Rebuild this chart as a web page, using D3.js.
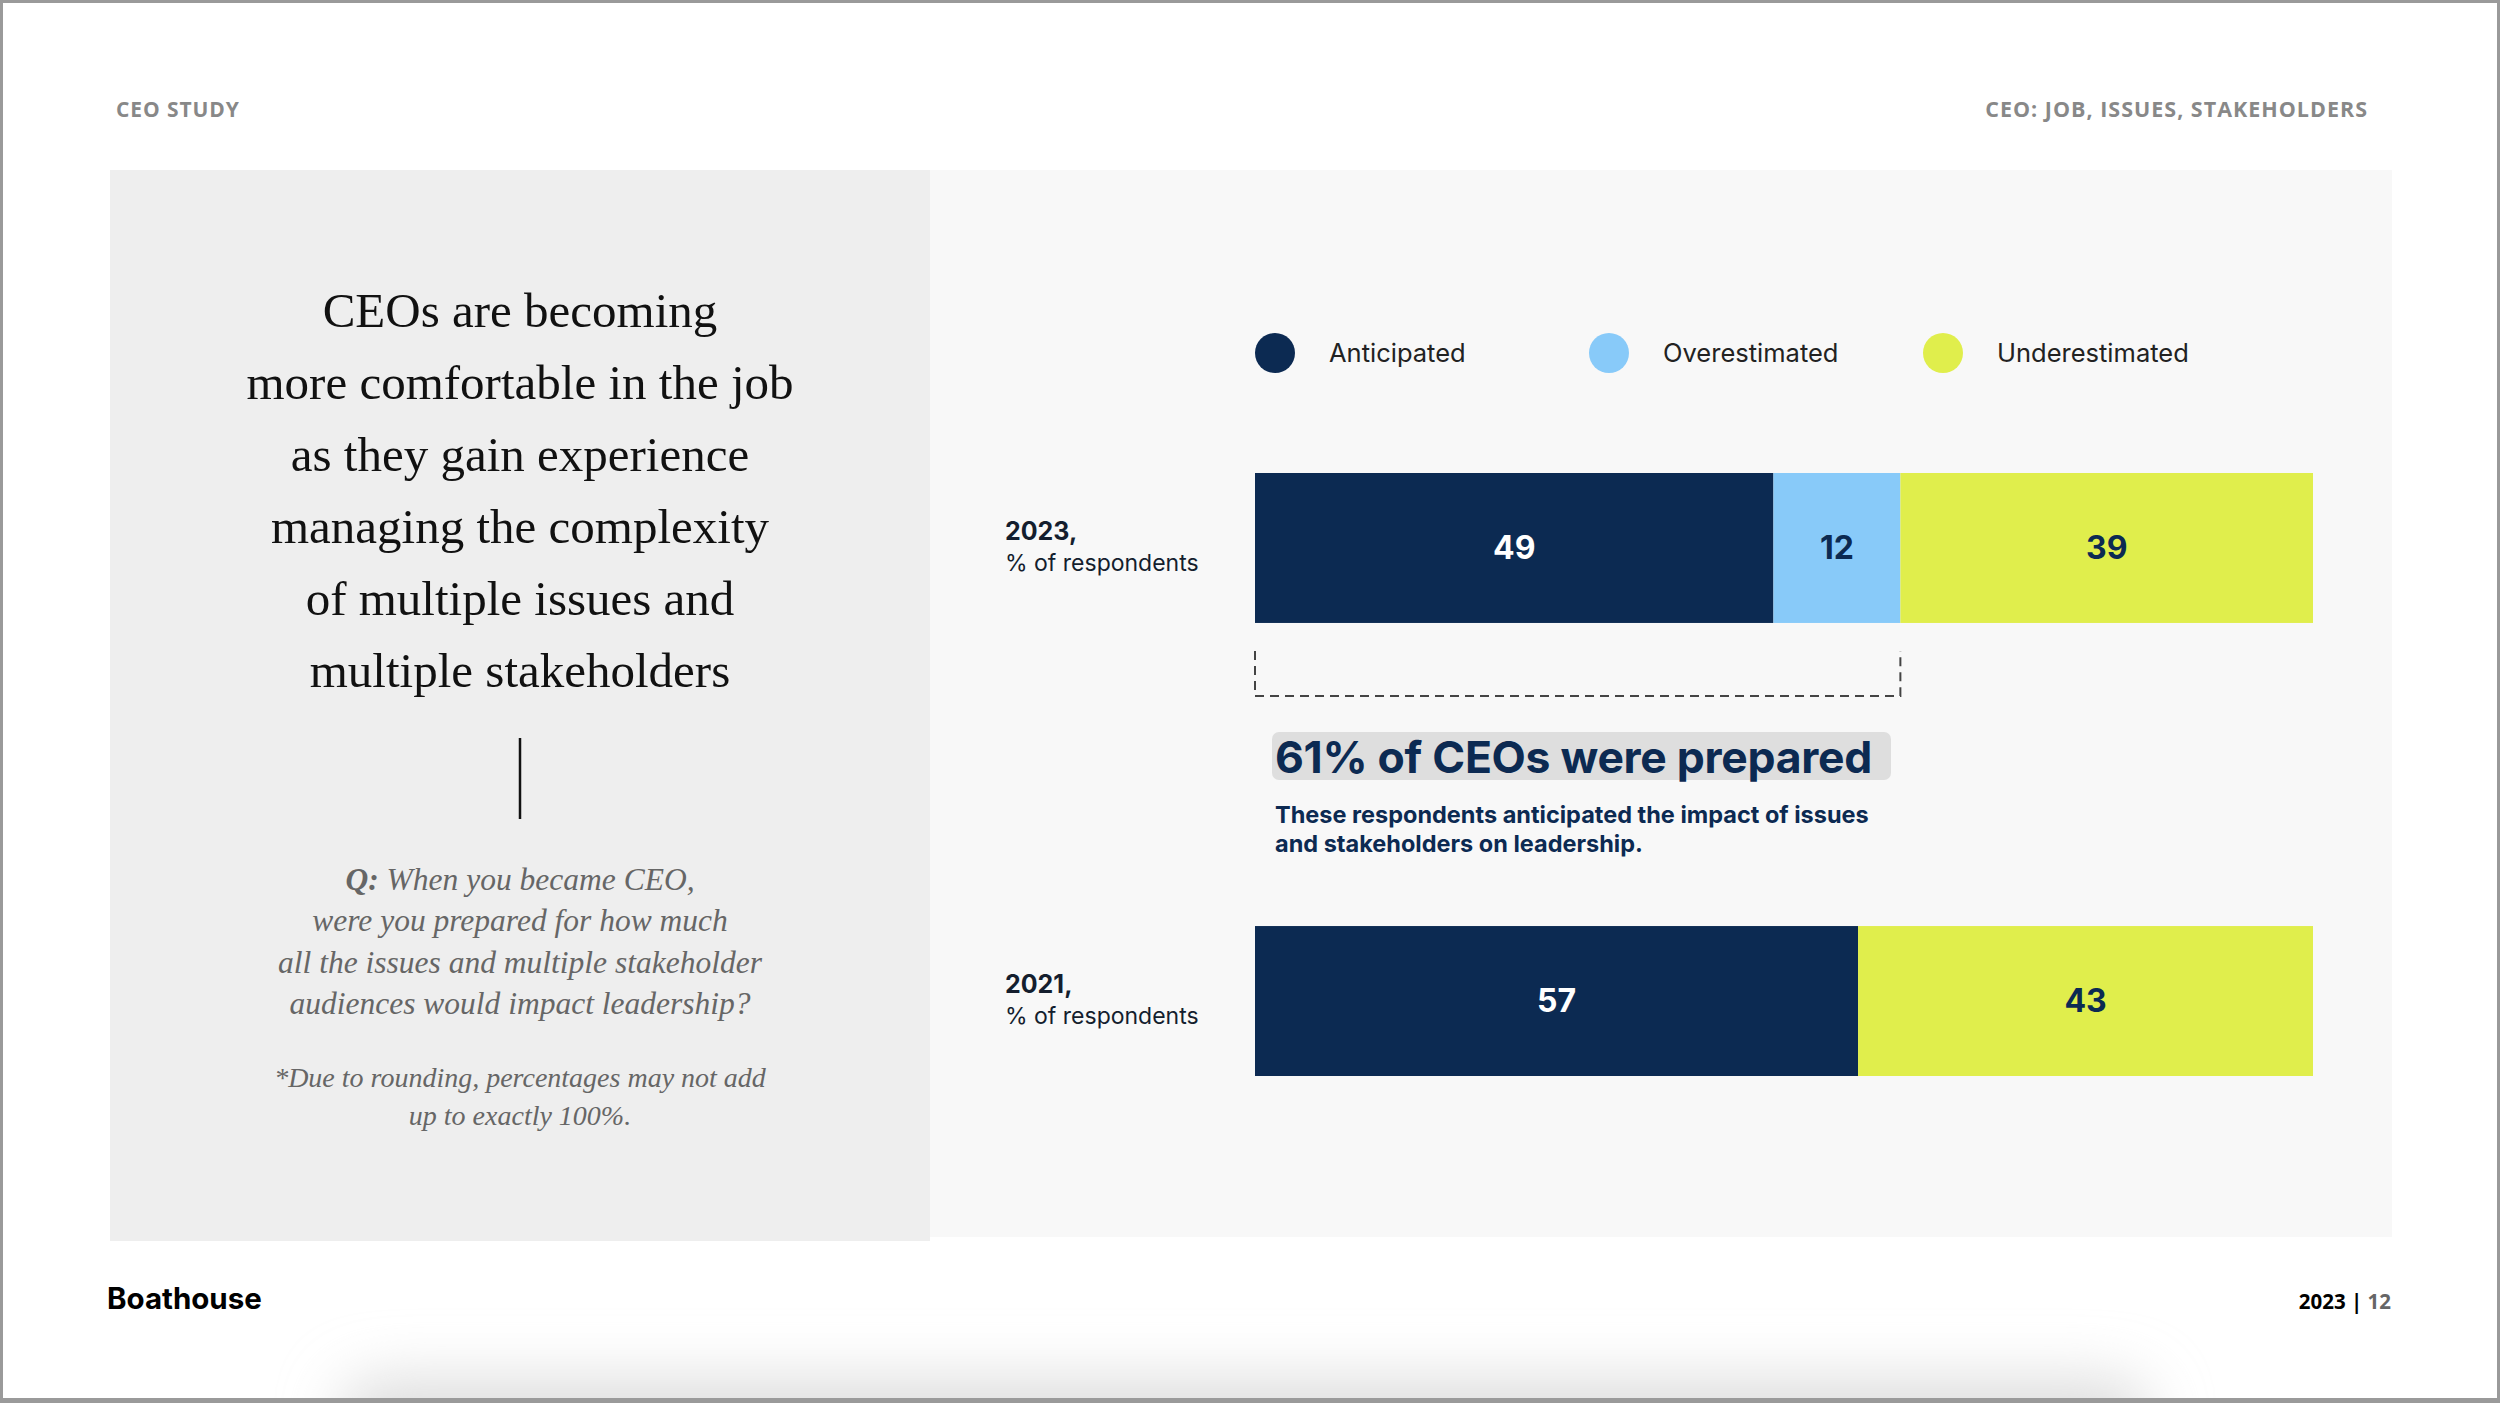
<!DOCTYPE html>
<html>
  <head>
    <meta charset="utf-8">
    <title>CEOs prepared for issues and stakeholders</title>
    <script src="https://d3js.org/d3.v7.min.js"></script>
    <style>
      html, body { margin: 0; padding: 0; background: #fff; }
      svg { display: block; }
    </style>
  </head>
  <body>
    <svg id="chart"></svg>
    <script>
// data
var years = ["2023", "2021"];
var categories = ["Anticipated", "Overestimated", "Underestimated"];
var values2023 = [49, 12, 39];
var values2021 = [57, 0, 43];
var preparedShare = 61;

var headlineLines = [
  "CEOs are becoming",
  "more comfortable in the job",
  "as they gain experience",
  "managing the complexity",
  "of multiple issues and",
  "multiple stakeholders"
];
var questionLines = [
  "When you became CEO,",
  "were you prepared for how much",
  "all the issues and multiple stakeholder",
  "audiences would impact leadership?"
];
var footnoteLines = [
  "*Due to rounding, percentages may not add",
  "up to exactly 100%."
];
var calloutLines = [
  "These respondents anticipated the impact of issues",
  "and stakeholders on leadership."
];

var W = 2500, H = 1403;
var navy = "#0c2a52";
var sans = "Inter, 'Noto Sans', sans-serif";
var serif = "'Liberation Serif', 'DejaVu Serif', serif";

var colorScale = d3.scaleOrdinal()
  .domain(categories)
  .range([navy, "#88caf9", "#e0ee4c"]);

var svg = d3.select("#chart")
  .attr("width", W)
  .attr("height", H);

var defs = svg.append("defs");
defs.append("filter")
  .attr("id", "blur")
  .attr("x", "-20%").attr("y", "-200%")
  .attr("width", "140%").attr("height", "500%")
  .append("feGaussianBlur")
  .attr("stdDeviation", 30);

svg.append("rect")
  .attr("width", W).attr("height", H)
  .attr("fill", "#fff");

// soft shadow under the page
svg.append("rect")
  .attr("x", 340).attr("y", 1380)
  .attr("width", 1810).attr("height", 80)
  .attr("rx", 40)
  .attr("fill", "#dcdcdc")
  .attr("filter", "url(#blur)");

// header
svg.append("text")
  .attr("x", 116).attr("y", 117)
  .style("font-family", "'Open Sans', sans-serif")
  .style("font-weight", 700)
  .style("font-size", "21px")
  .style("letter-spacing", "0.9px")
  .attr("fill", "#888")
  .text("CEO STUDY");

svg.append("text")
  .attr("x", 2368).attr("y", 117)
  .attr("text-anchor", "end")
  .style("font-family", "'Open Sans', sans-serif")
  .style("font-weight", 700)
  .style("font-size", "21.5px")
  .style("letter-spacing", "1px")
  .attr("fill", "#888")
  .text("CEO: JOB, ISSUES, STAKEHOLDERS");

// panels
svg.append("rect")
  .attr("x", 110).attr("y", 170)
  .attr("width", 820).attr("height", 1071)
  .attr("fill", "#eeeeee");

svg.append("rect")
  .attr("x", 930).attr("y", 170)
  .attr("width", 1462).attr("height", 1067)
  .attr("fill", "#f8f8f8");

// left panel text
var cx = 520;
svg.append("g")
  .selectAll("text")
  .data(headlineLines)
  .join("text")
  .attr("x", cx)
  .attr("y", function(d, i) { return 327 + i * 72; })
  .attr("text-anchor", "middle")
  .style("font-family", serif)
  .style("font-size", "49px")
  .attr("fill", "#111")
  .text(function(d) { return d; });

svg.append("line")
  .attr("x1", cx).attr("x2", cx)
  .attr("y1", 738).attr("y2", 819)
  .attr("stroke", "#111")
  .attr("stroke-width", 2.5);

var q = svg.append("g")
  .selectAll("text")
  .data(questionLines)
  .join("text")
  .attr("x", cx)
  .attr("y", function(d, i) { return 890 + i * 41.3; })
  .attr("text-anchor", "middle")
  .style("font-family", serif)
  .style("font-style", "italic")
  .style("font-size", "31.5px")
  .attr("fill", "#666");

q.each(function(d, i) {
  var t = d3.select(this);
  if (i === 0) {
    t.append("tspan").style("font-weight", 700).text("Q: ");
  }
  t.append("tspan").text(d);
});

svg.append("g")
  .selectAll("text")
  .data(footnoteLines)
  .join("text")
  .attr("x", cx)
  .attr("y", function(d, i) { return 1087 + i * 38; })
  .attr("text-anchor", "middle")
  .style("font-family", serif)
  .style("font-style", "italic")
  .style("font-size", "28px")
  .attr("fill", "#666")
  .text(function(d) { return d; });

// scales for the bars
var xScale = d3.scaleLinear()
  .domain([0, 100])
  .range([1255, 2313]);

var yScale = d3.scaleBand()
  .domain(years)
  .range([473, 1076])
  .paddingInner(0.669);

var rows = years.map(function(y, i) {
  var vals = i === 0 ? values2023 : values2021;
  var row = { year: y };
  categories.forEach(function(c, j) { row[c] = vals[j]; });
  return row;
});

var stacked = d3.stack().keys(categories)(rows);

// legend
var legendX = [1275, 1609, 1943];
var legend = svg.append("g")
  .selectAll("g")
  .data(categories)
  .join("g")
  .attr("transform", function(d, i) { return "translate(" + legendX[i] + ",353)"; });

legend.append("circle")
  .attr("r", 20)
  .attr("fill", function(d) { return colorScale(d); });

legend.append("text")
  .attr("x", 54)
  .attr("y", 9)
  .style("font-family", sans)
  .style("font-size", "25.5px")
  .attr("fill", "#222")
  .text(function(d) { return d; });

// bars
var series = svg.append("g")
  .selectAll("g")
  .data(stacked)
  .join("g")
  .attr("fill", function(d) { return colorScale(d.key); });

series.selectAll("rect")
  .data(function(d) { return d.map(function(p) { p.key = d.key; return p; }); })
  .join("rect")
  .attr("x", function(d) { return xScale(d[0]); })
  .attr("y", function(d) { return yScale(d.data.year); })
  .attr("width", function(d) { return xScale(d[1]) - xScale(d[0]); })
  .attr("height", yScale.bandwidth());

series.selectAll("text")
  .data(function(d) { return d.filter(function(p) { return p[1] - p[0] > 0; }); })
  .join("text")
  .attr("x", function(d) { return (xScale(d[0]) + xScale(d[1])) / 2; })
  .attr("y", function(d) { return yScale(d.data.year) + yScale.bandwidth() / 2; })
  .attr("dy", "0.33em")
  .attr("text-anchor", "middle")
  .style("font-family", sans)
  .style("font-weight", 700)
  .style("font-size", "32px")
  .attr("fill", function(d) { return d.key === "Anticipated" ? "#fff" : navy; })
  .text(function(d) { return d[1] - d[0]; });

// row labels
var rowLabel = svg.append("g")
  .selectAll("g")
  .data(years)
  .join("g")
  .attr("transform", function(d) {
    return "translate(1005," + (yScale(d) + yScale.bandwidth() / 2) + ")";
  });

rowLabel.append("text")
  .attr("y", -8)
  .style("font-family", sans)
  .style("font-weight", 700)
  .style("font-size", "25px")
  .attr("fill", "#141e2e")
  .text(function(d) { return d + ","; });

rowLabel.append("text")
  .attr("y", 23)
  .style("font-family", sans)
  .style("font-size", "23px")
  .attr("fill", "#141e2e")
  .text("% of respondents");

// dashed bracket under the prepared share
var bTop = yScale("2023") + yScale.bandwidth() + 28;
var bBot = bTop + 45;
svg.append("path")
  .attr("d", "M" + xScale(0) + "," + bTop + "V" + bBot + "H" + xScale(preparedShare) + "V" + bTop)
  .attr("fill", "none")
  .attr("stroke", "#444")
  .attr("stroke-width", 2)
  .attr("stroke-dasharray", "9,6");

// callout
svg.append("rect")
  .attr("x", 1272).attr("y", 732)
  .attr("width", 619).attr("height", 48)
  .attr("rx", 7)
  .attr("fill", "#dedede");

svg.append("text")
  .attr("x", 1275).attr("y", 773)
  .style("font-family", sans)
  .style("font-weight", 700)
  .style("font-size", "44.5px")
  .style("letter-spacing", "-0.3px")
  .attr("fill", navy)
  .text(preparedShare + "% of CEOs were prepared");

svg.append("g")
  .selectAll("text")
  .data(calloutLines)
  .join("text")
  .attr("x", 1275)
  .attr("y", function(d, i) { return 823 + i * 29; })
  .style("font-family", sans)
  .style("font-weight", 700)
  .style("font-size", "23.5px")
  .attr("fill", navy)
  .text(function(d) { return d; });

// footer
svg.append("text")
  .attr("x", 107).attr("y", 1309)
  .style("font-family", sans)
  .style("font-weight", 700)
  .style("font-size", "29.5px")
  .attr("fill", "#000")
  .text("Boathouse");

var pg = svg.append("text")
  .attr("x", 2391).attr("y", 1309)
  .attr("text-anchor", "end")
  .style("font-family", "'Open Sans', sans-serif")
  .style("font-weight", 700)
  .style("font-size", "20.5px");
pg.append("tspan").attr("fill", "#000").text("2023 | ");
pg.append("tspan").attr("fill", "#666").text("12");

// frame of the screenshot
svg.append("rect")
  .attr("x", 1.5).attr("y", 1.5)
  .attr("width", W - 3).attr("height", H - 3)
  .attr("fill", "none")
  .attr("stroke", "#9a9a9a")
  .attr("stroke-width", 3);
svg.append("rect")
  .attr("x", 0).attr("y", H - 5)
  .attr("width", W).attr("height", 5)
  .attr("fill", "#9a9a9a");
    </script>
  </body>
</html>
